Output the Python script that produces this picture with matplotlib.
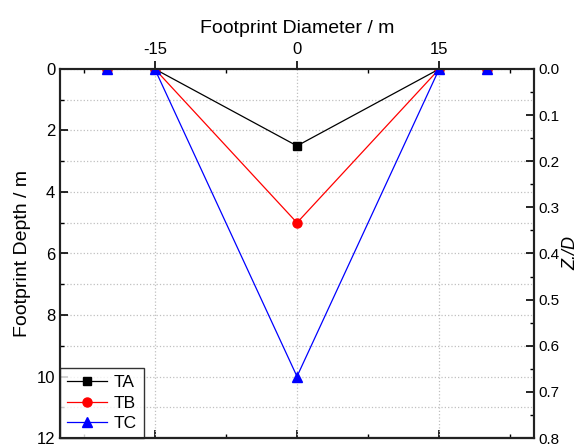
import matplotlib
matplotlib.use('Agg')
import matplotlib.pyplot as plt
from matplotlib.ticker import MultipleLocator, FixedLocator, FormatStrFormatter

plt.rcParams['font.family'] = 'Liberation Sans'
plt.rcParams['axes.unicode_minus'] = False

diameter = [-20, -15, 0, 15, 20]
depth_ta = [0, 0, 2.5, 0, 0]
depth_tb = [0, 0, 5, 0, 0]
depth_tc = [0, 0, 10, 0, 0]
footprint_d = 15.0

fig = plt.figure(figsize=(5.81, 4.48), dpi=100)
ax = fig.add_axes([60 / 581, 10 / 448, 474 / 581, 369 / 448])

ax.plot(diameter, depth_ta, color='black', marker='s', markersize=6, lw=0.9, label='TA', zorder=3)
ax.plot(diameter, depth_tb, color='red', marker='o', markersize=6.5, lw=0.9, label='TB', zorder=4)
ax.plot(diameter, depth_tc, color='blue', marker='^', markersize=7, lw=0.9, label='TC', zorder=5)

ax.set_xlim(-25, 25)
ax.set_ylim(12, 0)

ax.xaxis.tick_top()
ax.xaxis.set_label_position('top')
ax.xaxis.set_major_locator(FixedLocator([-15, 0, 15]))
ax.xaxis.set_minor_locator(FixedLocator([-22.5, -7.5, 7.5, 22.5]))
ax.yaxis.set_major_locator(MultipleLocator(2))
ax.yaxis.set_minor_locator(MultipleLocator(1))

ax.tick_params(axis='x', which='major', direction='out', length=6, width=1.2, labelsize=12, pad=3)
ax.tick_params(axis='x', which='minor', direction='in', length=3, width=1)
ax.tick_params(axis='y', which='major', direction='in', length=6, width=1.2, labelsize=12)
ax.tick_params(axis='y', which='minor', direction='in', length=3, width=1)

# bottom spine carries inward ticks without labels
bottom = ax.secondary_xaxis('bottom')
bottom.xaxis.set_major_locator(FixedLocator([-15, 0, 15]))
bottom.xaxis.set_minor_locator(FixedLocator([-22.5, -7.5, 7.5, 22.5]))
bottom.tick_params(which='major', direction='in', length=6, width=1.2, labelbottom=False)
bottom.tick_params(which='minor', direction='in', length=3, width=1)
bottom.spines['bottom'].set_linewidth(1.5)
bottom.spines['bottom'].set_color('#222222')

ax.grid(True, which='major', axis='x', color='#c0c0c0', linestyle=':', lw=0.9)
ax.grid(True, which='both', axis='y', color='#c0c0c0', linestyle=':', lw=0.9)
ax.set_axisbelow(True)

for s in ax.spines.values():
    s.set_linewidth(1.5)
    s.set_color('#222222')

ax.set_xlabel('Footprint Diameter / m', fontsize=14, labelpad=6)
ax.set_ylabel('Footprint Depth / m', fontsize=14, labelpad=4)

ax2 = ax.twinx()
ax2.set_ylim(12 / footprint_d, 0)
ax2.yaxis.set_major_locator(MultipleLocator(0.1))
ax2.yaxis.set_minor_locator(MultipleLocator(0.05))
ax2.yaxis.set_major_formatter(FormatStrFormatter('%.1f'))
ax2.tick_params(axis='y', which='major', direction='in', length=6, width=1.2, labelsize=11)
ax2.tick_params(axis='y', which='minor', direction='in', length=3, width=1)
for s in ax2.spines.values():
    s.set_linewidth(1.5)
    s.set_color('#222222')
ax2.set_ylabel('Z./D', fontsize=13, style='italic', labelpad=2)

leg = ax.legend(loc='lower left', fontsize=12.5, frameon=True, fancybox=False, edgecolor='black',
                borderaxespad=0, handlelength=2.3, handletextpad=0.4, labelspacing=0.3,
                borderpad=0.4)
leg.get_frame().set_linewidth(1.0)
leg.set_zorder(10)

fig.savefig('out.png', dpi=100)
plt.close()
